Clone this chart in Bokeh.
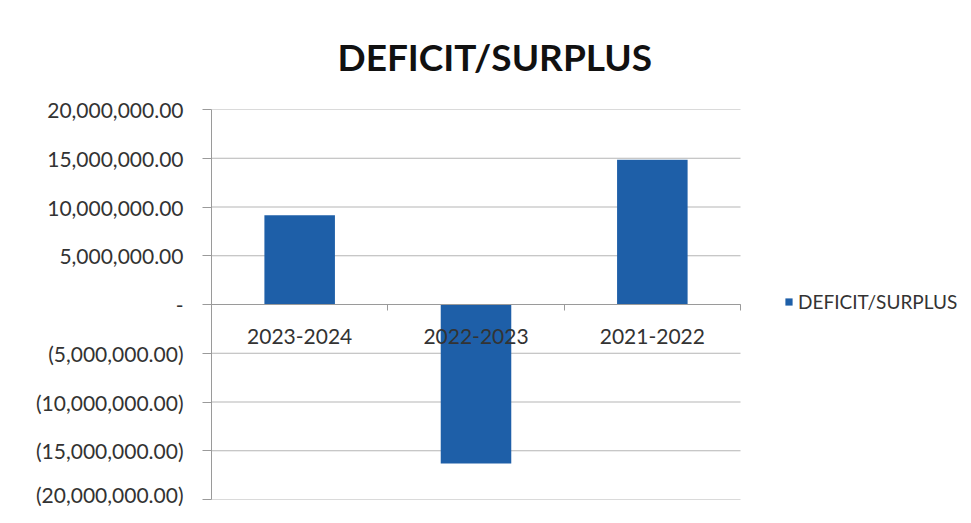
from bokeh.plotting import figure
from bokeh.models import FixedTicker, Legend, LegendItem, ColumnDataSource, Range1d
from bokeh.embed import file_html
from bokeh.resources import INLINE

# ---- data ----
categories = ["2023-2024", "2022-2023", "2021-2022"]
values = [9150000, -16300000, 14850000]
series_name = "DEFICIT/SURPLUS"
chart_title = "DEFICIT/SURPLUS"
y_ticks = [-20000000, -15000000, -10000000, -5000000, 0,
           5000000, 10000000, 15000000, 20000000]
y_tick_labels = ["(20,000,000.00)", "(15,000,000.00)", "(10,000,000.00)", "(5,000,000.00)", "-",
                 "5,000,000.00", "10,000,000.00", "15,000,000.00", "20,000,000.00"]

# ---- styling / layout ----
FONT = "Lato"
BAR = "#1E5FA8"
GRID = "#b5b5b5"
AXIS = "#9a9a9a"
TXT = "#333333"
W, H = 969, 506
LEFT, TOP, BOTTOM = 211, 109, 7
CAT_AREA_PX = 529          # width of the category (plot) area in pixels
frame_w = W - LEFT

n = len(categories)
x_end = n * frame_w / CAT_AREA_PX   # extra room on the right holds the legend

xs = [i + 0.5 for i in range(n)]
src = ColumnDataSource(dict(x=xs, v=values, cat=categories))

p = figure(width=W, height=H, output_backend="svg", toolbar_location=None,
           x_range=Range1d(0, x_end),
           y_range=Range1d(y_ticks[0], y_ticks[-1]),
           min_border_left=LEFT, min_border_right=0,
           min_border_top=TOP, min_border_bottom=BOTTOM)
p.outline_line_color = None
p.background_fill_color = "white"
p.border_fill_color = "white"

# horizontal gridlines over the category area only
grid_src = ColumnDataSource(dict(y=y_ticks, x0=[0] * len(y_ticks), x1=[n] * len(y_ticks)))
p.segment(x0="x0", y0="y", x1="x1", y1="y", source=grid_src, line_color=GRID, line_width=1)
p.xgrid.visible = False
p.ygrid.visible = False

r = p.vbar(x="x", top="v", bottom=0, width=0.4, source=src,
           fill_color=BAR, line_color=None)

# category axis line at zero
p.segment(x0=[0], y0=[0], x1=[n], y1=[0], line_color=AXIS, line_width=1)

# y axis
p.yaxis.ticker = FixedTicker(ticks=y_ticks)
p.yaxis.major_label_overrides = {t: l for t, l in zip(y_ticks, y_tick_labels)}
p.yaxis.axis_line_color = AXIS
p.yaxis.major_tick_line_color = AXIS
p.yaxis.major_tick_in = 0
p.yaxis.major_tick_out = 9
p.yaxis.minor_tick_line_color = None
p.yaxis.major_label_standoff = 19
p.yaxis.major_label_text_font = FONT
p.yaxis.major_label_text_font_size = "21px"
p.yaxis.major_label_text_color = TXT

# x axis at zero
p.xaxis.ticker = FixedTicker(ticks=xs, minor_ticks=list(range(n + 1)))
p.xaxis.major_label_overrides = {x: c for x, c in zip(xs, categories)}
p.xaxis.fixed_location = 0
p.xaxis.axis_line_color = None
p.xaxis.major_tick_line_color = None
p.xaxis.major_tick_in = 0
p.xaxis.major_tick_out = 0
p.xaxis.minor_tick_line_color = AXIS
p.xaxis.minor_tick_in = 0
p.xaxis.minor_tick_out = 6
p.xaxis.major_label_standoff = 18
p.xaxis.major_label_text_font = FONT
p.xaxis.major_label_text_font_size = "21px"
p.xaxis.major_label_text_color = TXT

# title
p.title.text = chart_title
p.title.align = "left"
p.title.offset = 126
p.title.standoff = 62
p.title.text_font = FONT
p.title.text_font_style = "bold"
p.title.text_font_size = "37px"
p.title.text_color = "#111111"

# legend
legend = Legend(items=[LegendItem(label=series_name, renderers=[r])],
                location=(573, 186), orientation="vertical",
                glyph_width=9, glyph_height=9, label_standoff=5,
                padding=0, margin=0, spacing=0,
                border_line_color=None, background_fill_alpha=0,
                label_text_font=FONT, label_text_font_size="19px",
                label_text_color=TXT)
p.add_layout(legend)

open("out.html", "w").write(file_html(p, INLINE))
